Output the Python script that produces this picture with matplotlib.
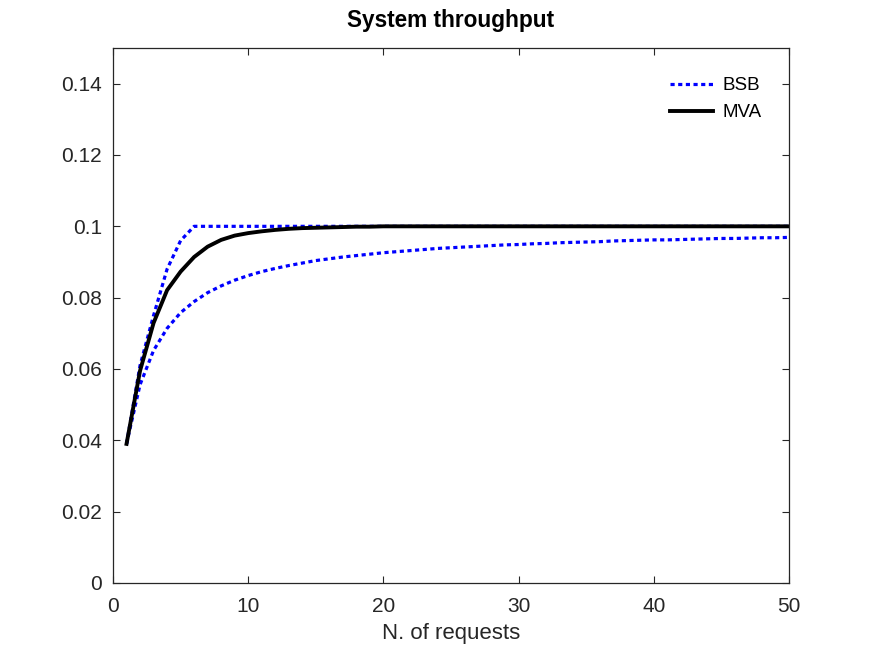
import numpy as np
import matplotlib.pyplot as plt

plt.rcParams['font.family'] = ['Liberation Sans', 'DejaVu Sans']

n_req = np.arange(1, 51)

bsb_upper = [0.039, 0.061, 0.075, 0.088, 0.096] + [0.1] * 45

mva = [0.039, 0.0595, 0.0729, 0.0821, 0.0873, 0.0914, 0.0943, 0.0962, 0.0974, 0.0981,
       0.0986, 0.0990, 0.0993, 0.0995, 0.0996, 0.0997, 0.0998, 0.0999, 0.0999] + [0.1] * 31

bsb_lower = [0.039, 0.0556, 0.0652, 0.0714, 0.0758, 0.0789, 0.0814, 0.0833, 0.0849, 0.0862,
             0.0873, 0.0882, 0.0890, 0.0897, 0.0904, 0.0909, 0.0914, 0.0918, 0.0922, 0.0926,
             0.0929, 0.0932, 0.0935, 0.0938, 0.0940, 0.0942, 0.0944, 0.0946, 0.0948, 0.0949,
             0.0951, 0.0952, 0.0954, 0.0955, 0.0956, 0.0957, 0.0959, 0.0960, 0.0961, 0.0962,
             0.0962, 0.0963, 0.0964, 0.0965, 0.0966, 0.0966, 0.0967, 0.0968, 0.0968, 0.0969]

fig = plt.figure(figsize=(8.72, 6.54), dpi=100)
ax = fig.add_axes([0.1296, 0.1086, 0.7752, 0.818])

dot = (0, (1.3, 1.1))
ax.plot(n_req, bsb_upper, color='#0000ff', lw=2.3, ls=dot, label='BSB')
ax.plot(n_req, bsb_lower, color='#0000ff', lw=2.3, ls=dot)
ax.plot(n_req, mva, color='black', lw=2.8, label='MVA')

ax.set_xlim(0, 50)
ax.set_ylim(0, 0.15)
ax.set_xticks([0, 10, 20, 30, 40, 50])
ax.set_yticks([0, 0.02, 0.04, 0.06, 0.08, 0.1, 0.12, 0.14])
ax.set_yticklabels(['0', '0.02', '0.04', '0.06', '0.08', '0.1', '0.12', '0.14'])
ax.tick_params(direction='in', length=5, width=0.8, top=True, right=True,
               labelsize=15, labelcolor='#262626', color='#262626')
ax.tick_params(axis='x', pad=10)
ax.tick_params(axis='y', pad=8)
for s in ax.spines.values():
    s.set_color('#262626')
    s.set_linewidth(0.9)

ax.set_xlabel('N. of requests', fontsize=16, color='#262626', labelpad=5)
ax.set_title('System throughput', fontsize=16.3, fontweight='bold', pad=15)

# legend without box, top right
leg = ax.legend(loc='upper right', frameon=False, fontsize=13.5, handlelength=2.3,
                bbox_to_anchor=(0.985, 0.977), labelspacing=0.52, handletextpad=0.5)

fig.savefig('out.png', dpi=100)
